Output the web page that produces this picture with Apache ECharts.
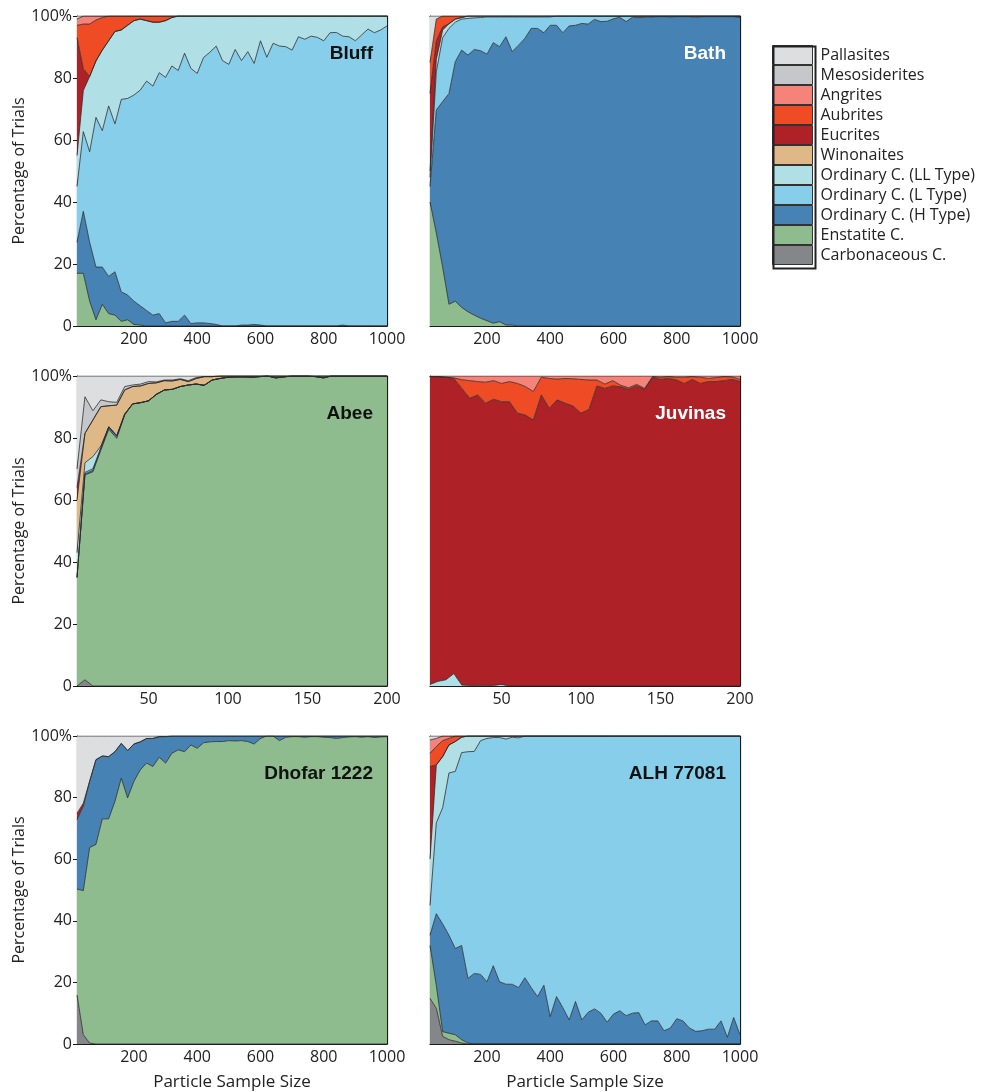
<!DOCTYPE html>
<html>
<head>
<meta charset="utf-8">
<script src="https://cdn.jsdelivr.net/npm/echarts@6/dist/echarts.min.js"></script>
<style>
html,body{margin:0;padding:0;background:#fff;}
#chart{width:998px;height:1092px;}
</style>
</head>
<body>
<div id="chart"></div>
<script>
// ---------- x positions (particle sample size) ----------
const xLarge = [20,40,60,80,100,120,140,160,180,200,220,240,260,280,300,320,340,360,380,400,420,440,460,480,500,520,540,560,580,600,620,640,660,680,700,720,740,760,780,800,820,840,860,880,900,920,940,960,980,1000];
const xSmall = [5,10,15,20,25,30,35,40,45,50,55,60,65,70,75,80,85,90,95,100,105,110,115,120,125,130,135,140,145,150,155,160,165,170,175,180,185,190,195,200];

// ---------- meteorite classes (bottom of stack first) ----------
const classNames = ['Carbonaceous C.','Enstatite C.','Ordinary C. (H Type)','Ordinary C. (L Type)','Ordinary C. (LL Type)','Winonaites','Eucrites','Aubrites','Angrites','Mesosiderites','Pallasites'];
const classColors = ['#85868a','#8fbc8f','#4682b4','#87ceeb','#b0dfe6','#deb887','#ad2127','#ef4b24','#f5837a','#c6c7ca','#dddee0'];

// ---------- y tick labels ----------
const yTickLabels = {0:'0',20:'20',40:'40',60:'60',80:'80',100:'100%'};

// ---------- Bluff ----------
const bluffEnstatite = [17,17,8,2,7,4,3.5,1.5,2,0.5, 0.3,0,0,0,0,0,0,0,0,0, 0,0,0,0,0,0,0,0,0,0, 0,0,0,0,0,0,0,0,0,0, 0,0,0,0,0,0,0,0,0,0];
const bluffH = [10,20,19,17,12,12,14,9.5,8,7.5, 6.2,5,3.5,4,1,1.5,1.5,3.5,0.8,1, 1,0.8,0.5,0,0,0,0.3,0.3,0.5,0.3, 0,0,0,0,0,0,0,0,0,0, 0,0,0.3,0,0,0,0,0,0,0];
const bluffL = [18,25.7,29.2,48.3,44,55,47.7,62.1,63.4,66.5, 69.6,74,73.9,77.7,79.2,82.4,80.9,84.5,82.3,80.5, 85.6,87.5,89.8,85.6,84.4,89.2,85.3,88.2,84.2,91.7, 86.7,91.2,90.3,90.1,89,93.3,92.5,93.5,93.1,92, 94.6,94.7,93.2,93.3,92,93.9,95.8,94.6,95.5,96.8];
const bluffLL = [10,13.3,24.3,18.2,26,21,29.8,22.4,23.6,24, 22.9,19.5,20.6,16.3,18.3,15.6,17.6,12,16.9,18.5, 13.4,11.7,9.7,14.4,15.6,10.8,14.4,11.5,15.3,8, 13.3,8.8,9.7,9.9,11,6.7,7.5,6.5,6.9,8, 5.4,5.3,6.5,6.7,8,6.1,4.2,5.4,4.5,3.2];
const bluffEucrites = [38,7,0,0,0,0,0,0,0,0, 0,0,0,0,0,0,0,0,0,0, 0,0,0,0,0,0,0,0,0,0, 0,0,0,0,0,0,0,0,0,0, 0,0,0,0,0,0,0,0,0,0];
const bluffAubrites = [4,14.4,16.9,13.2,10.5,8,5,4.5,3,1.5, 1,1.5,2,2,1.5,0.5,0,0,0,0, 0,0,0,0,0,0,0,0,0,0, 0,0,0,0,0,0,0,0,0,0, 0,0,0,0,0,0,0,0,0,0];
const bluffAngrites = [2,2.6,2.6,1.3,0.5,0,0,0,0,0, 0,0,0,0,0,0,0,0,0,0, 0,0,0,0,0,0,0,0,0,0, 0,0,0,0,0,0,0,0,0,0, 0,0,0,0,0,0,0,0,0,0];
const bluffPallasites = [1,0,0,0,0,0,0,0,0,0, 0,0,0,0,0,0,0,0,0,0, 0,0,0,0,0,0,0,0,0,0, 0,0,0,0,0,0,0,0,0,0, 0,0,0,0,0,0,0,0,0,0];

// ---------- Bath ----------
const bathEnstatite = [40,30,19,7,8,6,4.6,3.5,2.5,1.7, 0.9,1.4,0.3,0.3,0,0,0,0,0,0, 0,0,0,0,0,0,0,0,0,0, 0,0,0,0,0,0,0,0,0,0, 0,0,0,0,0,0,0,0,0,0];
const bathH = [5,39.7,53.4,68,77.3,83,82.8,85.7,86.3,86, 90.5,88.7,93,88.2,90.6,92.8,96,96,94.6,97, 97,94.6,96.8,97,97.6,97.4,98.9,98.2,98.3,99.1, 99.6,98.2,99.6,99.5,99.6,99.7,99.8,99.8,99.7,99.8, 99.8,99.8,99.6,99.8,99.8,99.8,99.8,99.8,99.8,99.5];
const bathL = [3,12.3,20.6,21,12.7,10,11.8,10.2,10.7,12, 8.3,9.6,6.4,11.2,9.1,6.9,3.7,3.7,5.1,2.7, 3,5.4,3.2,3,2.4,2.6,1.1,1.8,1.7,0.9, 0.4,1.8,0.4,0.5,0.4,0.3,0.2,0.2,0.3,0.2, 0.2,0.2,0.4,0.2,0.2,0.2,0.2,0.2,0.2,0.5];
const bathLL = [2,4,2.5,1.5,1,0.5,0.8,0.6,0.5,0.3, 0.3,0.3,0.3,0.3,0.3,0.3,0.3,0.3,0.3,0.3, 0,0,0,0,0,0,0,0,0,0, 0,0,0,0,0,0,0,0,0,0, 0,0,0,0,0,0,0,0,0,0];
const bathEucrites = [25,6,1,0,0,0,0,0,0,0, 0,0,0,0,0,0,0,0,0,0, 0,0,0,0,0,0,0,0,0,0, 0,0,0,0,0,0,0,0,0,0, 0,0,0,0,0,0,0,0,0,0];
const bathAubrites = [10,7,3.5,2.5,1,0.5,0,0,0,0, 0,0,0,0,0,0,0,0,0,0, 0,0,0,0,0,0,0,0,0,0, 0,0,0,0,0,0,0,0,0,0, 0,0,0,0,0,0,0,0,0,0];
const bathPallasites = [15,1,0,0,0,0,0,0,0,0, 0,0,0,0,0,0,0,0,0,0, 0,0,0,0,0,0,0,0,0,0, 0,0,0,0,0,0,0,0,0,0, 0,0,0,0,0,0,0,0,0,0];

// ---------- Abee ----------
const abeeCarbonaceous = [0,2,0,0,0,0,0,0,0,0, 0,0,0,0,0,0,0,0,0,0, 0,0,0,0,0,0,0,0,0,0, 0,0,0,0,0,0,0,0,0,0];
const abeeEnstatite = [35,66.1,69.1,76.1,82.8,79.9,87.4,91,91.4,92, 94.1,95.5,95.7,96.6,97.1,97.4,97,98.7,99.2,99.6, 99.7,99.7,99.6,99.8,100,99.4,99.7,100,100,100, 99.8,99.4,100,100,100,100,100,100,100,100];
const abeeH = [0,0.3,0.5,0.5,0.8,0.8,0.3,0,0,0, 0,0,0,0,0,0,0,0,0,0, 0,0,0,0,0,0,0,0,0,0, 0,0,0,0,0,0,0,0,0,0];
const abeeL = [0,0.5,0.5,0.3,0,0,0,0,0,0, 0,0,0,0,0,0,0,0,0,0, 0,0,0,0,0,0,0,0,0,0, 0,0,0,0,0,0,0,0,0,0];
const abeeLL = [8,3.1,3.9,0.5,0,0,0,0,0,0, 0,0,0,0,0,0,0,0,0,0, 0,0,0,0,0,0,0,0,0,0, 0,0,0,0,0,0,0,0,0,0];
const abeeWinonaites = [17,9.5,11.8,12.7,6.8,9.9,7.8,5.6,5.4,5.6, 3.7,3,2.7,2.3,1.1,1.8,2.8,1.1,0.8,0.4, 0.3,0.3,0.4,0.2,0,0.6,0.3,0,0,0, 0.2,0.6,0,0,0,0,0,0,0,0];
const abeeEucrites = [4,0,0,0,0,0,0,0,0,0, 0,0,0,0,0,0,0,0,0,0, 0,0,0,0,0,0,0,0,0,0, 0,0,0,0,0,0,0,0,0,0];
const abeeMesosiderites = [6,11.8,3,2.2,1.3,0.9,1.1,0.5,0.6,0.6, 0.3,0.2,0.3,0.2,0.3,0.3,0,0,0,0, 0,0,0,0,0,0,0,0,0,0, 0,0,0,0,0,0,0,0,0,0];
const abeePallasites = [30,6.7,11.2,7.7,8.3,8.5,3.4,2.9,2.6,1.8, 1.9,1.3,1.3,0.9,1.5,0.5,0.2,0.2,0,0, 0,0,0,0,0,0,0,0,0,0, 0,0,0,0,0,0,0,0,0,0];

// ---------- Juvinas ----------
const juvinasLL = [0.5,1.5,2,4,0.3,0.2,0.2,0.2,0.2,0.5, 0,0,0,0,0,0,0,0,0,0, 0,0,0,0,0,0,0,0,0,0, 0,0,0,0,0,0,0,0,0,0];
const juvinasEucrites = [99.3,98.3,97.6,95.2,95.7,92.6,93.7,91,92.3,91.2, 91.7,88,87.4,85.8,93.9,89.6,92.3,91.2,90.3,88, 89.2,96.8,96,96.8,96.5,95.7,96.8,95.7,99.6,98.9, 99.2,98.7,97.6,98.9,97.6,98.2,98.2,98.5,98.9,98.2];
const juvinasAubrites = [0,0,0,0.2,2.8,5.7,4.3,6.8,6,5.9, 6.5,9.6,9.2,9.2,5.7,9.6,6.7,8,8.8,10.9, 9.5,1.9,1.4,1.7,0.5,0.5,0.5,0.3,0.2,0.7, 0.6,0.9,2,0.9,2,1,1.3,1.3,0.8,0.7];
const juvinasAngrites = [0.2,0.2,0.4,0.6,1.2,1.5,1.8,2,1.5,2.4, 1.8,2.4,3.4,5,0.4,0.8,1,0.8,0.9,1.1, 1.3,1.3,2.6,1.5,3,3.8,2.7,4,0.2,0.4, 0.2,0.4,0.4,0.2,0.4,0.8,0.5,0.2,0.3,1.1];

// ---------- Dhofar 1222 ----------
const dhofarCarbonaceous = [15.9,3,0.3,0,0,0,0,0,0,0, 0,0,0,0,0,0,0,0,0,0, 0,0,0,0,0,0,0,0,0,0, 0,0,0,0,0,0,0,0,0,0, 0,0,0,0,0,0,0,0,0,0];
const dhofarEnstatite = [34.4,46.8,63.5,64.8,73.1,73.1,78.8,86.3,79.9,85.3, 89,91.2,90.1,93.1,91.2,94.4,95.5,94.9,97.1,96, 97.8,98.1,98.2,98.2,98.5,98.4,98.5,98.2,97.4,99.2, 100,100,98.5,99.6,99.8,99.8,99.6,99.8,99.8,99.6, 99.5,99.2,99.5,99.7,99.8,99.6,99.8,99.5,99.7,99.8];
const dhofarH = [22.6,27.4,21.5,27.5,20.4,20.2,16.1,11.3,15.4,12.1, 9.1,8,9.1,6.7,8.6,5.6,4.5,5.1,2.9,4, 2.2,1.9,1.8,1.8,1.5,1.6,1.5,1.8,2.6,0.8, 0,0,1.5,0.4,0.2,0.2,0.4,0.2,0.2,0.4, 0.5,0.8,0.5,0.3,0.2,0.4,0.2,0.5,0.3,0.2];
const dhofarEucrites = [2,1,0,0,0,0,0,0,0,0, 0,0,0,0,0,0,0,0,0,0, 0,0,0,0,0,0,0,0,0,0, 0,0,0,0,0,0,0,0,0,0, 0,0,0,0,0,0,0,0,0,0];
const dhofarPallasites = [25.1,21.8,14.7,7.7,6.5,6.7,5.1,2.4,4.7,2.6, 1.9,0.8,0.8,0.2,0.2,0,0,0,0,0, 0,0,0,0,0,0,0,0,0,0, 0,0,0,0,0,0,0,0,0,0, 0,0,0,0,0,0,0,0,0,0];

// ---------- ALH 77081 ----------
const alhCarbonaceous = [14.8,11.6,2.5,1.4,0.9,0.3,0,0,0,0, 0,0,0,0,0,0,0,0,0,0, 0,0,0,0,0,0,0,0,0,0, 0,0,0,0,0,0,0,0,0,0, 0,0,0,0,0,0,0,0,0,0];
const alhEnstatite = [17.2,7.4,1.5,2.1,2.1,1.1,0.3,0,0,0, 0,0,0,0,0,0,0,0,0,0, 0,0,0,0,0,0,0,0,0,0, 0,0,0,0,0,0,0,0,0,0, 0,0,0,0,0,0,0,0,0,0];
const alhH = [3.3,23.3,35,31.8,28,30.6,21,22.9,22.6,20.2, 25.4,20.2,19.4,19.4,18.3,21.5,18.3,15.4,19.1,8.9, 15.4,11.8,7.8,13.8,7.8,10.3,11.4,10,7.1,9.7, 10.8,9.2,10,10.2,6.2,7.5,7.5,4.3,5.2,8.2, 7.5,5.2,4.1,4.3,4.8,4.8,7.5,2.2,8.6,3];
const alhL = [9.7,29.5,37.7,52.7,57.5,62.6,73.6,72.1,75.9,79, 74.1,79.3,79.6,80.2,81.1,78.5,81.7,84.6,80.9,91.1, 84.6,88.2,92.2,86.2,92.2,89.7,88.6,90,92.9,90.3, 89.2,90.8,90,89.8,93.8,92.5,92.5,95.7,94.8,91.8, 92.5,94.8,95.9,95.7,95.2,95.2,92.5,97.8,91.4,97];
const alhLL = [15,18.8,16.6,9.1,9.7,5,5.1,5,1.5,0.8, 0.5,0.5,1,0.4,0.6,0,0,0,0,0, 0,0,0,0,0,0,0,0,0,0, 0,0,0,0,0,0,0,0,0,0, 0,0,0,0,0,0,0,0,0,0];
const alhEucrites = [30.1,0,0,0,0,0,0,0,0,0, 0,0,0,0,0,0,0,0,0,0, 0,0,0,0,0,0,0,0,0,0, 0,0,0,0,0,0,0,0,0,0, 0,0,0,0,0,0,0,0,0,0];
const alhAubrites = [4.3,6,5.2,2.1,1.8,0.4,0,0,0,0, 0,0,0,0,0,0,0,0,0,0, 0,0,0,0,0,0,0,0,0,0, 0,0,0,0,0,0,0,0,0,0, 0,0,0,0,0,0,0,0,0,0];
const alhAngrites = [4.3,2.6,1.5,0.8,0,0,0,0,0,0, 0,0,0,0,0,0,0,0,0,0, 0,0,0,0,0,0,0,0,0,0, 0,0,0,0,0,0,0,0,0,0, 0,0,0,0,0,0,0,0,0,0];
const alhPallasites = [1.3,0.8,0,0,0,0,0,0,0,0, 0,0,0,0,0,0,0,0,0,0, 0,0,0,0,0,0,0,0,0,0, 0,0,0,0,0,0,0,0,0,0, 0,0,0,0,0,0,0,0,0,0];

const panels = [
  {title:'Bluff', titleColor:'#111', x:xLarge, step:200, data:{
    'Enstatite C.':bluffEnstatite,'Ordinary C. (H Type)':bluffH,'Ordinary C. (L Type)':bluffL,'Ordinary C. (LL Type)':bluffLL,
    'Eucrites':bluffEucrites,'Aubrites':bluffAubrites,'Angrites':bluffAngrites,'Pallasites':bluffPallasites}},
  {title:'Bath', titleColor:'#ffffff', x:xLarge, step:200, data:{
    'Enstatite C.':bathEnstatite,'Ordinary C. (H Type)':bathH,'Ordinary C. (L Type)':bathL,'Ordinary C. (LL Type)':bathLL,
    'Eucrites':bathEucrites,'Aubrites':bathAubrites,'Pallasites':bathPallasites}},
  {title:'Abee', titleColor:'#111', x:xSmall, step:50, data:{
    'Carbonaceous C.':abeeCarbonaceous,'Enstatite C.':abeeEnstatite,'Ordinary C. (H Type)':abeeH,'Ordinary C. (L Type)':abeeL,
    'Ordinary C. (LL Type)':abeeLL,'Winonaites':abeeWinonaites,'Eucrites':abeeEucrites,'Mesosiderites':abeeMesosiderites,'Pallasites':abeePallasites}},
  {title:'Juvinas', titleColor:'#ffffff', x:xSmall, step:50, data:{
    'Ordinary C. (LL Type)':juvinasLL,'Eucrites':juvinasEucrites,'Aubrites':juvinasAubrites,'Angrites':juvinasAngrites}},
  {title:'Dhofar 1222', titleColor:'#111', x:xLarge, step:200, data:{
    'Carbonaceous C.':dhofarCarbonaceous,'Enstatite C.':dhofarEnstatite,'Ordinary C. (H Type)':dhofarH,'Eucrites':dhofarEucrites,'Pallasites':dhofarPallasites}},
  {title:'ALH 77081', titleColor:'#111', x:xLarge, step:200, data:{
    'Carbonaceous C.':alhCarbonaceous,'Enstatite C.':alhEnstatite,'Ordinary C. (H Type)':alhH,'Ordinary C. (L Type)':alhL,
    'Ordinary C. (LL Type)':alhLL,'Eucrites':alhEucrites,'Aubrites':alhAubrites,'Angrites':alhAngrites,'Pallasites':alhPallasites}}
];

// ---------- layout ----------
const gridLefts = [77, 430];
const gridTops = [16, 376, 736];
const PW = 310, PH = 310;
const FONT = "'Open Sans', 'Noto Sans', sans-serif";
const AX = '#1a1a1a';

const grids = [], xAxes = [], yAxes = [], series = [], titles = [];
const topX = [], rightY = [];
panels.forEach((p, i) => {
  const col = i % 2, row = Math.floor(i / 2);
  const left = gridLefts[col], top = gridTops[row];
  grids.push({left: left, top: top, width: PW, height: PH, containLabel: false});
  const onStep = (idx, val) => Number(val) % p.step === 0;
  const common = {
    type: 'category', gridIndex: i, data: p.x.map(String), boundaryGap: false,
    axisLine: {show: true, onZero: false, lineStyle: {color: AX, width: 1.2}},
    axisTick: {show: true, inside: true, length: 4, interval: onStep, alignWithLabel: true, lineStyle: {color: AX, width: 1}},
    splitLine: {show: false}
  };
  xAxes.push(Object.assign({}, common, {
    position: 'bottom',
    axisLabel: {show: true, interval: onStep, fontSize: 16, color: '#222', fontFamily: FONT, margin: 5},
    name: row === 2 ? 'Particle Sample Size' : '',
    nameLocation: 'middle', nameGap: 30,
    nameTextStyle: {fontSize: 17, color: '#222', fontFamily: FONT}
  }));
  topX.push(Object.assign({}, common, {position: 'top', axisLabel: {show: false, interval: onStep}}));
  const ycommon = {
    type: 'value', gridIndex: i, min: 0, max: 100, interval: 20,
    axisLine: {show: true, lineStyle: {color: AX, width: 1.2}},
    splitLine: {show: false}
  };
  yAxes.push(Object.assign({}, ycommon, {
    position: 'left',
    axisTick: {show: true, inside: col === 1, length: 4, lineStyle: {color: AX, width: 1}},
    axisLabel: {show: col === 0, fontSize: 16, color: '#222', fontFamily: FONT, margin: 5,
      formatter: v => yTickLabels[v]},
    name: col === 0 ? 'Percentage of Trials' : '',
    nameLocation: 'middle', nameGap: 43, nameRotate: 90,
    nameTextStyle: {fontSize: 16, color: '#222', fontFamily: FONT}
  }));
  rightY.push(Object.assign({}, ycommon, {
    position: 'right',
    axisTick: {show: true, inside: true, length: 4, lineStyle: {color: AX, width: 1}},
    axisLabel: {show: false}
  }));

  titles.push({
    text: p.title, right: 998 - (left + PW - 14), top: top + 28, padding: 0,
    textStyle: {fontSize: 19, fontWeight: 'bold', color: p.titleColor, fontFamily: "'Liberation Sans', Arial, sans-serif"}
  });

  classNames.forEach((nm, k) => {
    const vals = p.data[nm];
    if (!vals) return;
    series.push({
      type: 'line', name: nm, xAxisIndex: i, yAxisIndex: i, stack: 'panel' + i,
      data: vals,
      showSymbol: false, symbol: 'none', smooth: false,
      lineStyle: {color: '#2b2b2b', width: 0.8},
      itemStyle: {color: classColors[k]},
      areaStyle: {color: classColors[k], opacity: 1},
      emphasis: {disabled: true},
      silent: true
    });
  });
});

const option = {
  animation: false,
  backgroundColor: '#ffffff',
  title: titles,
  grid: grids,
  xAxis: xAxes.concat(topX),
  yAxis: yAxes.concat(rightY),
  legend: {
    orient: 'vertical', left: 772, top: 45, itemGap: 0, itemWidth: 40, itemHeight: 19,
    icon: 'rect', padding: 0, selectedMode: false,
    data: classNames.slice().reverse(),
    itemStyle: {borderColor: '#333', borderWidth: 1},
    textStyle: {fontSize: 16, color: '#222', fontFamily: FONT, lineHeight: 18, padding: [0, 0, 0, 3]}
  },
  graphic: [{
    type: 'rect', left: 771, top: 44, z: 100, silent: true,
    shape: {width: 42, height: 222},
    style: {fill: 'none', stroke: '#222', lineWidth: 2}
  }],
  series: series
};

const chart = echarts.init(document.getElementById('chart'), null, {renderer: 'canvas'});
chart.setOption(option);
</script>
</body>
</html>
